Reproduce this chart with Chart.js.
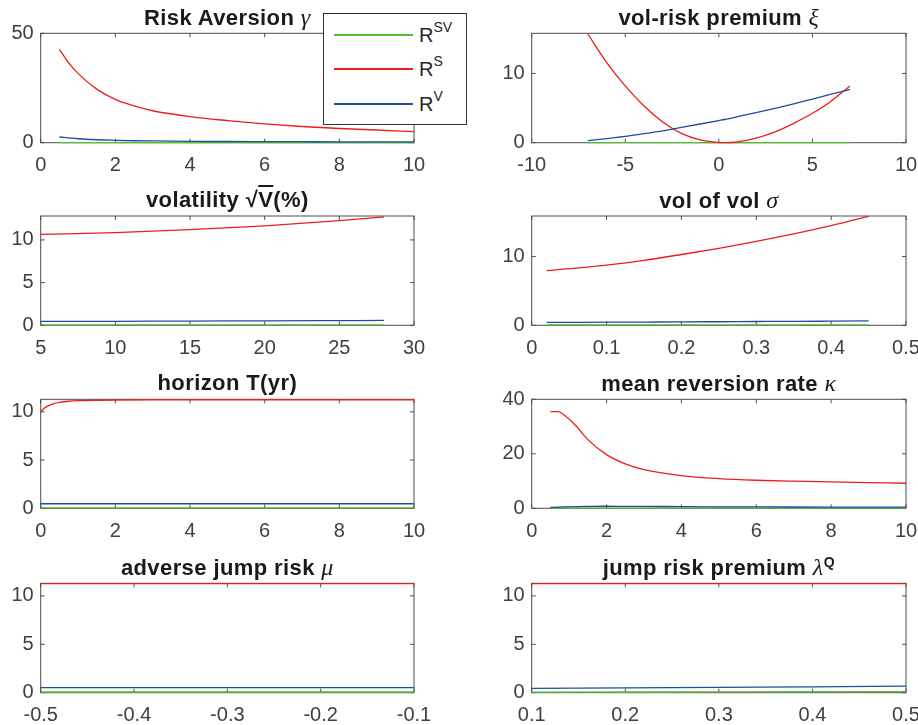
<!DOCTYPE html>
<html>
<head>
<meta charset="utf-8">
<script src="https://cdn.jsdelivr.net/npm/chart.js@4.4.1/dist/chart.umd.min.js"></script>
<style>
body { margin: 0; background: #fff; }
#fig { position: relative; width: 918px; height: 725px; overflow: hidden; font-family: 'Liberation Sans', Arial, sans-serif; }
#fig canvas { position: absolute; left: 0; top: 0; }
.ttl { position: absolute; text-align: center; font-size: 22px; font-weight: bold; line-height: 24px; color: #1a1a1a; white-space: nowrap; letter-spacing: 0.4px; z-index: 5; }
.ttl i { font-family: 'Liberation Serif', serif; font-weight: normal; font-size: 24px; }
.ttl sup { font-size: 14px; font-weight: bold; vertical-align: 8px; line-height: 0; }
.ttl .ov { text-decoration: overline; }
#legend { position: absolute; left: 323px; top: 13px; width: 142px; height: 110px; border: 1px solid #333; background: #fff; z-index: 10; }
#legend .row { position: absolute; left: 0; height: 0; }
#legend .swatch { position: absolute; left: 10px; top: -1px; width: 79px; height: 1.5px; }
#legend .lbl { position: absolute; left: 95px; top: -12px; font-size: 20px; line-height: 24px; color: #262626; white-space: nowrap; }
#legend .lbl sup { font-size: 14px; vertical-align: 10px; line-height: 0; }
</style>
</head>
<body>
<div id="fig">
  <div id="legend">
    <div class="row" style="top:21px"><div class="swatch" style="background:#52bf2e"></div><div class="lbl">R<sup>SV</sup></div></div>
    <div class="row" style="top:55px"><div class="swatch" style="background:#ee1c1c"></div><div class="lbl">R<sup>S</sup></div></div>
    <div class="row" style="top:90px"><div class="swatch" style="background:#1f4e9c"></div><div class="lbl">R<sup>V</sup></div></div>
  </div>
</div>
<script>
// risk aversion gamma
const gammaX   = [0.5, 0.75, 1, 1.5, 2, 2.5, 3, 4, 5, 6, 7, 8, 9, 10];
const gammaRSV = [0.03, 0.03, 0.03, 0.03, 0.03, 0.03, 0.03, 0.03, 0.03, 0.03, 0.03, 0.03, 0.03, 0.03];
const gammaRS  = [42.7, 36.5, 31.7, 24.5, 19.8, 16.8, 14.6, 11.9, 10.1, 8.6, 7.4, 6.5, 5.8, 5.1];
const gammaRV  = [2.6, 2.2, 1.8, 1.35, 1.1, 0.9, 0.8, 0.65, 0.55, 0.5, 0.45, 0.4, 0.38, 0.35];
const gammaXTicks = [0, 2, 4, 6, 8, 10];
const gammaYTicks = [0, 50];

// vol-risk premium xi
const xiX   = [-7, -6, -5, -4, -3, -2, -1, 0, 0.3, 1, 2, 3, 4, 5, 6, 7];
const xiRSV = [0.02, 0.02, 0.02, 0.02, 0.02, 0.02, 0.02, 0.02, 0.02, 0.02, 0.02, 0.02, 0.02, 0.02, 0.02, 0.02];
const xiRS  = [15.7, 11.6, 8.2, 5.3, 3.0, 1.35, 0.4, 0.03, 0, 0.12, 0.65, 1.55, 2.8, 4.25, 6.0, 8.2];
const xiRV  = [0.3, 0.6, 0.9, 1.3, 1.7, 2.2, 2.7, 3.2, 3.35, 3.75, 4.35, 4.95, 5.6, 6.3, 7.0, 7.7];
const xiXTicks = [-10, -5, 0, 5, 10];
const xiYTicks = [0, 10];

// volatility sqrt(V)
const volX   = [5, 10, 15, 20, 25, 28];
const volRSV = [0.05, 0.05, 0.05, 0.05, 0.05, 0.05];
const volRS  = [10.65, 10.85, 11.2, 11.65, 12.25, 12.7];
const volRV  = [0.45, 0.47, 0.5, 0.52, 0.55, 0.57];
const volXTicks = [5, 10, 15, 20, 25, 30];
const volYTicks = [0, 5, 10];

// vol of vol sigma
const sigX   = [0.02, 0.1, 0.15, 0.2, 0.25, 0.3, 0.35, 0.4, 0.45];
const sigRSV = [0.06, 0.06, 0.06, 0.06, 0.06, 0.06, 0.06, 0.06, 0.06];
const sigRS  = [7.95, 8.75, 9.45, 10.3, 11.2, 12.2, 13.3, 14.5, 15.85];
const sigRV  = [0.42, 0.45, 0.47, 0.5, 0.52, 0.55, 0.57, 0.6, 0.63];
const sigXTicks = [0, 0.1, 0.2, 0.3, 0.4, 0.5];
const sigYTicks = [0, 10];

// horizon T
const horX   = [0, 0.1, 0.2, 0.35, 0.5, 0.75, 1, 1.5, 2, 3, 5, 10];
const horRSV = [0.05, 0.05, 0.05, 0.05, 0.05, 0.05, 0.05, 0.05, 0.05, 0.05, 0.05, 0.05];
const horRS  = [10.0, 10.4, 10.62, 10.85, 10.98, 11.1, 11.16, 11.2, 11.22, 11.24, 11.25, 11.25];
const horRV  = [0.47, 0.47, 0.47, 0.47, 0.47, 0.47, 0.47, 0.47, 0.47, 0.47, 0.47, 0.47];
const horXTicks = [0, 2, 4, 6, 8, 10];
const horYTicks = [0, 5, 10];

// mean reversion rate kappa
const kapX   = [0.5, 0.7, 0.9, 1.2, 1.5, 2, 2.5, 3, 4, 5, 6, 7, 8, 9, 10];
const kapRSV = [0.05, 0.05, 0.05, 0.05, 0.05, 0.05, 0.05, 0.05, 0.05, 0.05, 0.05, 0.05, 0.05, 0.05, 0.05];
const kapRS  = [35.5, 35.5, 33.9, 30.0, 25.2, 19.7, 16.3, 14.2, 12.0, 10.9, 10.3, 9.95, 9.7, 9.45, 9.2];
const kapRV  = [0.3, 0.45, 0.55, 0.65, 0.7, 0.75, 0.72, 0.7, 0.62, 0.55, 0.5, 0.47, 0.45, 0.42, 0.4];
const kapXTicks = [0, 2, 4, 6, 8, 10];
const kapYTicks = [0, 20, 40];

// adverse jump risk mu
const muX   = [-0.5, -0.4, -0.3, -0.2, -0.1];
const muRSV = [0.07, 0.07, 0.07, 0.07, 0.07];
const muRS  = [11.27, 11.27, 11.27, 11.27, 11.27];
const muRV  = [0.52, 0.52, 0.52, 0.52, 0.52];
const muXTicks = [-0.5, -0.4, -0.3, -0.2, -0.1];
const muYTicks = [0, 5, 10];

// jump risk premium lambda^Q
const lamX   = [0.1, 0.2, 0.3, 0.4, 0.5];
const lamRSV = [0.06, 0.07, 0.08, 0.1, 0.12];
const lamRS  = [11.27, 11.27, 11.27, 11.27, 11.27];
const lamRV  = [0.45, 0.5, 0.55, 0.6, 0.67];
const lamXTicks = [0.1, 0.2, 0.3, 0.4, 0.5];
const lamYTicks = [0, 5, 10];

// upper y limits of each axes
const yLimits = [50, 15.8, 12.8, 15.9, 11.3, 40, 11.3, 11.3];

const W = 918, H = 725;
const AXW = 40, AXH = 40, TICK = 4;
const colSV = '#52bf2e', colS = '#ee1c1c', colV = '#1f4e9c';
const axisCol = '#4d4d4d', tickCol = '#404040';
const fontFam = "'Liberation Sans', Arial, sans-serif";
const fig = document.getElementById('fig');

const panels = [
  { title: 'Risk Aversion <i>γ</i>', box: [40.7, 33.3, 414, 142.7], x: gammaX, sv: gammaRSV, s: gammaRS, v: gammaRV, xt: gammaXTicks, yt: gammaYTicks },
  { title: 'vol-risk premium <i>ξ</i>', box: [531.7, 33.3, 906, 142.7], x: xiX, sv: xiRSV, s: xiRS, v: xiRV, xt: xiXTicks, yt: xiYTicks },
  { title: 'volatility &#8730;<span class="ov">V</span>(%)', box: [40.7, 216, 414, 325.3], x: volX, sv: volRSV, s: volRS, v: volRV, xt: volXTicks, yt: volYTicks },
  { title: 'vol of vol <i>σ</i>', box: [531.7, 216, 906, 325.3], x: sigX, sv: sigRSV, s: sigRS, v: sigRV, xt: sigXTicks, yt: sigYTicks },
  { title: 'horizon T(yr)', box: [40.7, 399.3, 414, 508.3], x: horX, sv: horRSV, s: horRS, v: horRV, xt: horXTicks, yt: horYTicks },
  { title: 'mean reversion rate <i>κ</i>', box: [531.7, 399.3, 906, 508.3], x: kapX, sv: kapRSV, s: kapRS, v: kapRV, xt: kapXTicks, yt: kapYTicks },
  { title: 'adverse jump risk <i>μ</i>', box: [40.7, 583.3, 414, 692.7], x: muX, sv: muRSV, s: muRS, v: muRV, xt: muXTicks, yt: muYTicks },
  { title: 'jump risk premium <i>λ</i><sup>Q</sup>', box: [531.7, 583.3, 906, 692.7], x: lamX, sv: lamRSV, s: lamRS, v: lamRV, xt: lamXTicks, yt: lamYTicks }
];

// MATLAB style box with inward ticks on all four sides
const boxPlugin = {
  id: 'matlabBox',
  beforeDatasetsDraw(chart) {
    const { ctx, chartArea: { left, top, right, bottom }, scales: { x, y } } = chart;
    ctx.save();
    ctx.strokeStyle = axisCol;
    ctx.lineWidth = 1;
    ctx.strokeRect(left, top, right - left, bottom - top);
    ctx.beginPath();
    x.ticks.forEach(t => {
      const px = x.getPixelForValue(t.value);
      ctx.moveTo(px, bottom); ctx.lineTo(px, bottom - TICK);
      ctx.moveTo(px, top); ctx.lineTo(px, top + TICK);
    });
    y.ticks.forEach(t => {
      const py = y.getPixelForValue(t.value);
      ctx.moveTo(left, py); ctx.lineTo(left + TICK, py);
      ctx.moveTo(right, py); ctx.lineTo(right - TICK, py);
    });
    ctx.stroke();
    ctx.restore();
  }
};

function fmt(v) {
  return String(+v.toFixed(2));
}

function series(xs, ys, color, order) {
  return {
    data: xs.map((x, i) => ({ x: x, y: ys[i] })),
    borderColor: color,
    borderWidth: 1.3,
    pointRadius: 0,
    fill: false,
    cubicInterpolationMode: 'monotone',
    clip: 2,
    order: order
  };
}

function makePanel(p, idx) {
  const canvas = document.createElement('canvas');
  canvas.width = W;
  canvas.height = H;
  fig.appendChild(canvas);
  const [L, T, R, B] = p.box;

  const ttl = document.createElement('div');
  ttl.className = 'ttl';
  ttl.style.left = L + 'px';
  ttl.style.width = (R - L) + 'px';
  ttl.style.top = (T - 28) + 'px';
  ttl.innerHTML = p.title;
  fig.appendChild(ttl);

  return new Chart(canvas.getContext('2d'), {
    type: 'line',
    data: {
      datasets: [
        series(p.x, p.sv, colSV, 3),
        series(p.x, p.s, colS, 2),
        series(p.x, p.v, colV, 1)
      ]
    },
    options: {
      responsive: false,
      animation: false,
      devicePixelRatio: 1,
      layout: { padding: { left: L - AXW, top: T, right: W - R, bottom: H - B - AXH } },
      plugins: { legend: { display: false }, tooltip: { enabled: false } },
      scales: {
        x: {
          type: 'linear',
          min: p.xt[0],
          max: p.xt[p.xt.length - 1],
          grid: { display: false },
          border: { display: false },
          ticks: { padding: 3, color: tickCol, font: { size: 20, family: fontFam }, maxRotation: 0, autoSkip: false, callback: fmt },
          afterBuildTicks: s => { s.ticks = p.xt.map(v => ({ value: v })); },
          afterFit: s => { s.height = AXH; s.paddingLeft = 0; s.paddingRight = 0; }
        },
        y: {
          type: 'linear',
          min: 0,
          max: yLimits[idx],
          grid: { display: false },
          border: { display: false },
          ticks: { padding: -1, color: tickCol, font: { size: 20, family: fontFam }, autoSkip: false, callback: fmt },
          afterBuildTicks: s => { s.ticks = p.yt.map(v => ({ value: v })); },
          afterFit: s => { s.width = AXW; s.paddingTop = 0; s.paddingBottom = 0; }
        }
      }
    },
    plugins: [boxPlugin]
  });
}

panels.forEach((p, i) => makePanel(p, i));
</script>
</body>
</html>
